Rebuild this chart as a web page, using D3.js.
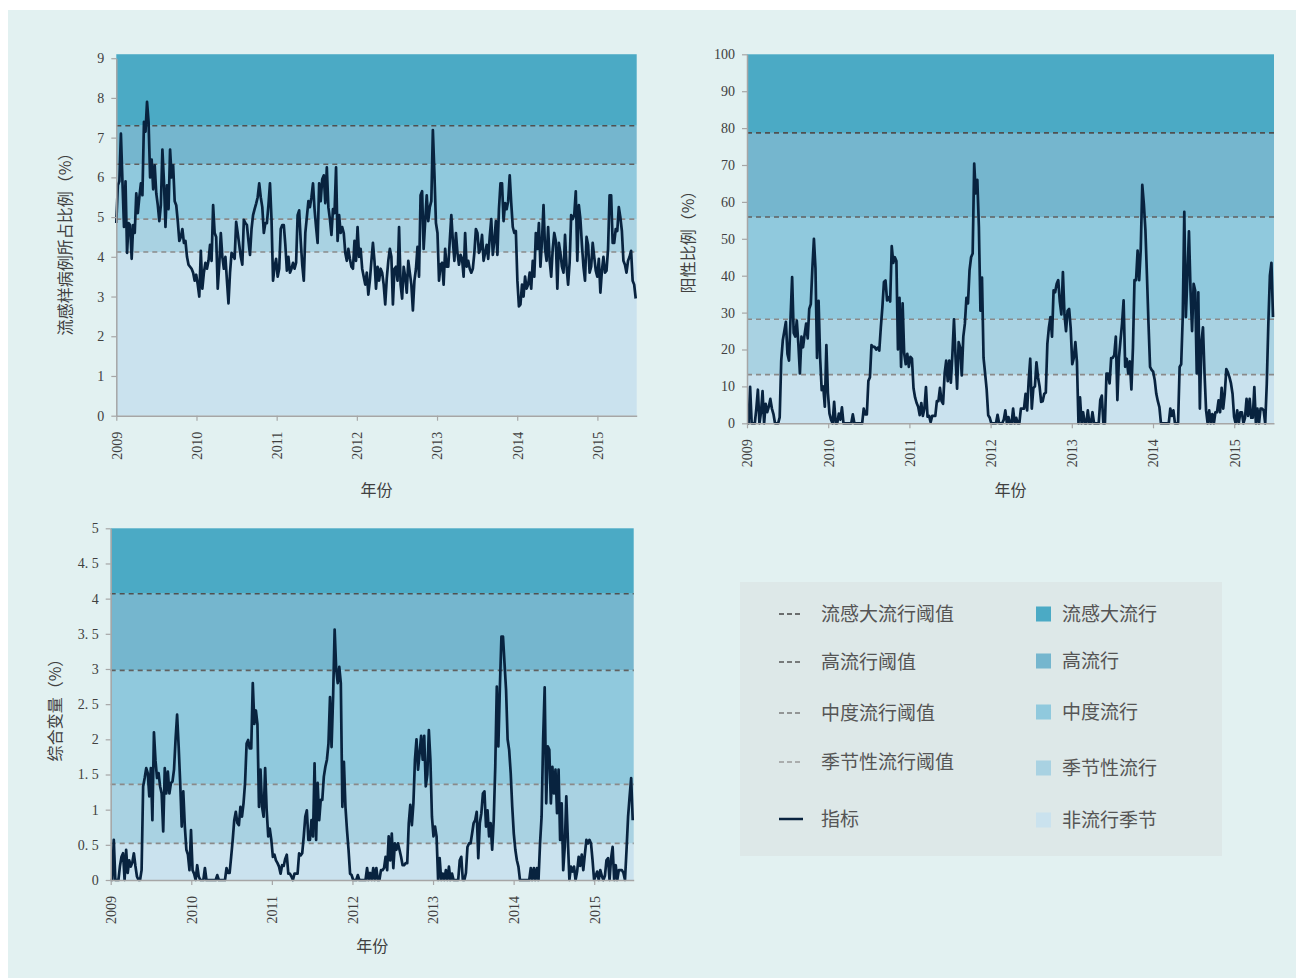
<!DOCTYPE html>
<html>
<head>
<meta charset="utf-8">
<script src="https://cdn.jsdelivr.net/npm/d3@7"></script>
<style>
  body { margin: 0; background: #ffffff; }
  svg { display: block; font-family: "Liberation Serif", "Noto Sans CJK SC", serif; }
</style>
</head>
<body>
<div id="chart"></div>
<script>
// ---- data (weekly, starting first week of 2009) ----
const years = [2009, 2010, 2011, 2012, 2013, 2014, 2015];

const bandNames = ["非流行季节", "季节性流行", "中度流行", "高流行", "流感大流行"];
const bandColors = ["#cae2ee", "#a9d2e2", "#90c9dd", "#75b6ce", "#4baac5"];
const thresholdNames = ["季节性流行阈值", "中度流行阈值", "高流行阈值", "流感大流行阈值"];
const thresholdColors = ["#8a8a8a", "#8a8a8a", "#606060", "#505050"];
const legendDashColors = ["#999999", "#7a7a7a", "#555555", "#444444"];

// ILI percentage
const iliValues = [
  4.85,5.8,5.9,7.1,5.9,4.75,5.9,4.1,4.85,4.8,3.95,4.8,4.6,5.6,5.1,5.5,5.85,5.55,7.4,7.15,
  7.9,7.4,6.0,6.45,5.7,6.3,5.6,5.3,4.9,5.3,6.7,5.9,4.75,5.8,5.2,6.7,6.0,6.3,5.4,5.3,
  4.9,4.4,4.5,4.7,4.35,4.4,4.0,3.8,3.75,3.7,3.6,
  3.4,3.55,3.3,3.0,4.15,3.2,3.6,3.85,3.7,3.9,4.3,3.9,5.3,4.6,4.5,3.2,3.8,4.6,4.0,3.7,
  4.0,3.4,2.83,3.6,4.1,4.05,3.95,4.88,4.6,4.3,4.0,3.8,4.93,4.85,4.8,4.4,4.05,4.7,5.05,5.2,
  5.34,5.5,5.85,5.5,5.25,4.6,4.85,4.85,5.3,5.85,
  4.95,3.4,3.75,3.95,3.5,3.7,4.7,4.8,4.8,4.3,3.65,4.0,3.6,3.7,3.85,3.7,
  3.85,5.05,5.17,4.4,3.8,3.4,4.6,5.0,5.4,5.25,5.5,5.85,5.2,4.75,4.35,5.85,5.4,5.95,6.05,5.35,
  6.25,5.25,4.95,4.55,5.2,5.1,6.25,4.4,5.05,4.6,4.75,4.6,4.1,3.9,4.2,3.95,3.75,3.7,4.4,3.9,
  4.75,4.0,4.2,3.7,
  3.5,3.3,3.6,3.05,3.4,3.9,4.35,3.9,3.2,3.75,3.4,3.7,3.6,3.3,2.8,3.45,3.9,4.2,4.0,2.8,
  3.7,3.75,3.4,4.75,3.3,2.95,3.75,3.5,3.1,3.9,3.6,3.3,2.65,3.4,3.7,4.25,3.5,5.55,5.65,4.2,
  4.9,5.55,4.9,5.25,5.4,7.19,6.1,4.85,4.6,3.4,3.8,
  3.85,3.3,4.2,3.75,3.75,4.4,5.05,4.4,3.9,4.6,4.1,3.8,4.05,3.95,3.5,4.6,3.75,3.9,3.7,3.6,
  3.7,4.1,4.7,4.6,4.1,4.2,4.55,3.9,4.1,4.3,3.95,4.5,4.95,4.05,4.4,4.9,4.05,5.2,5.85,5.85,
  4.9,5.35,5.2,5.4,6.05,5.35,4.75,4.6,4.65,3.4,
  2.75,2.8,3.3,3.0,3.5,3.2,3.3,3.6,3.2,3.9,3.5,4.6,4.2,4.85,3.75,4.4,5.3,4.2,3.9,4.75,
  3.9,3.5,4.2,4.6,4.4,3.2,4.35,4.1,3.75,3.6,4.55,3.75,3.3,3.85,5.05,4.95,5.05,5.65,3.9,5.3,
  4.95,4.3,3.75,3.4,4.5,4.3,3.6,3.75,4.35,4.0,3.65,3.5,3.95,3.1,3.65,4.0,3.6,3.65,4.2,5.55,
  5.55,4.35,4.35,4.7,4.65,5.25,5.0,4.65,3.9,3.8,3.6,3.9,4.0,4.15,3.4,3.3,2.95
];
const iliThresholds = [4.12, 4.95, 6.33, 7.3];
const iliTicks = [0, 1, 2, 3, 4, 5, 6, 7, 8, 9];
const iliTickLabels = ["0", "1", "2", "3", "4", "5", "6", "7", "8", "9"];

// positivity percentage
const posValues = [
  0,0,9.9,0,0,0,4,9.1,0,3,8.7,0,5.3,3,4.5,6.6,4,2.5,0,0,
  0,1.6,17,22.5,25,27.5,18.8,17,28.8,39.6,24.5,23.5,27.8,21.5,13.5,23.5,20.6,24,27,23,
  31,32.3,42,50,42,17.7,33.2,17.7,9,10,4.5,21.2,8.2,2.6,1,0,5.8,0,0,2.6,
  1,4.3,0,0,0,0,0,0,2.4,0,0,0,0,0,0,4,2.4,2.4,11.5,12.5,
  21.2,20.7,20.7,20,20.5,19.7,26,31.5,38.3,38.7,33.3,34.2,33,48,43.5,45,44,20,34,15.3,
  32.5,19,16,18.8,15.3,18,17.5,9.5,7,5.5,4.5,2.2,5.5,2,4,9.8,1.8,2,0.3,2,
  2,2,6,6,9.6,6,5.3,13.5,17,11.4,17,11,18.8,28.2,18,9.4,22,20.5,13,23.5,
  27,34,32.5,41.5,45,46,70.4,62.3,66,53.3,30.5,39.5,17.7,13.5,9.2,2.2,1.5,0,0,0,
  0,2.3,0,0,0,1,3.5,0,1.7,0,0,4,0,1.5,0,0,4,4,4,8,
  3.5,11.6,17.5,4,9.5,10,16.5,12.5,10,5.8,6,8,8.3,21.5,26,28.8,23.5,36,35.5,37.8,
  38.8,33,29.5,41,29.5,25,30.5,31,25.8,16,17.7,22,16.8,0,7,0,3,0,0,3.5,
  0,0,3,0,0,0,0,6.3,7.5,0,0,13.5,13.5,10.8,17.7,17.7,18.5,23.5,6.3,17.7,
  22.5,27,33.3,15.3,17.5,13.5,16.8,9.2,20.5,38.8,38.8,46.8,38.8,47,64.6,59.5,52.5,40,27,15.3,
  14.5,14,11.7,8,6,4.4,0,0,0,0,0,0,4,2,3.5,0,0,0,15.3,16,
  28.8,57.3,28.8,40,52,36,25,37.8,36,13.5,35.5,4,22,26,13.5,3.5,0,3.5,0,2.5,
  0,3,3,6.2,3,9.6,4,8,14.7,13.8,12.5,10.8,8,1.7,0,3.5,0,3,3,0,
  1.5,6.6,2,6.6,1.5,1.5,9.8,0,4,0,4,4,3.5,0,10.8,27,40,43.5,28.8
];
const posThresholds = [13.2, 28.2, 55.9, 78.7];
const posTicks = [0, 10, 20, 30, 40, 50, 60, 70, 80, 90, 100];
const posTickLabels = ["0", "10", "20", "30", "40", "50", "60", "70", "80", "90", "100"];

// composite
const compValues = [
  0,0,0.57,0,0,0,0.2,0.33,0.38,0,0.43,0.1,0.28,0.19,0.25,0.38,0.2,0.05,0,0,
  0.14,1.33,1.45,1.59,1.52,1.19,1.59,0.85,2.1,1.7,1.45,1.52,1.33,1.23,0.69,1.59,1.23,1.54,1.23,1.38,
  1.4,1.57,2.0,2.35,1.9,1.38,0.76,1.26,0.76,0.43,0.36,0.14,0.71,0.14,0.09,0,0.21,0.05,0,0,
  0,0.17,0,0,0,0,0,0,0,0.07,0,0,0,0,0,0.17,0.1,0.1,0.33,0.57,
  0.85,0.97,0.81,0.78,1.04,0.9,1.09,1.38,1.94,1.99,1.87,1.87,2.8,2.22,2.41,2.22,1.04,1.57,1.04,0.9,
  1.59,0.99,0.62,0.73,0.57,0.33,0.36,0.28,0.24,0.19,0.09,0.21,0.2,0.3,0.36,0.09,0.09,0.05,0,0.09,
  0.09,0.09,0.38,0.35,0.38,0.62,0.9,0.99,0.57,0.57,0.85,0.62,1.66,0.57,1.38,0.85,1.14,1.14,1.47,1.61,
  1.71,1.94,2.6,1.89,2.6,3.56,3.0,2.8,3.03,2.8,1.04,1.68,1.04,0.71,0.43,0.09,0.07,0,0,0,
  0.07,0,0,0,0,0,0.17,0,0.1,0,0.17,0,0.17,0,0,0.14,0.14,0.17,0.33,0.14,
  0.62,0.28,0.66,0.17,0.52,0.43,0.52,0.43,0.33,0.21,0.21,0.24,0.24,0.81,1.07,0.78,1.09,1.71,2.0,1.57,
  1.8,2.05,1.71,2.05,1.33,1.5,2.13,1.71,0.9,0.62,0.76,0.62,0,0.31,0,0.09,0,0.14,0,0.19,
  0,0.09,0,0,0,0,0.28,0.33,0,0,0.1,0.47,0.52,0.52,0.66,0.81,0.85,0.97,0.31,0.81,
  0.95,1.23,1.26,0.76,0.99,0.62,0.81,0.43,0.85,1.61,2.75,1.9,2.75,3.46,3.46,3.08,2.7,2.0,1.85,1.52,
  1.04,0.66,0.43,0.28,0.19,0,0,0,0,0,0,0,0.17,0,0.17,0,0.17,0,0.52,0.9,
  2.0,2.74,1.09,1.9,1.85,1.09,1.61,1.23,1.57,0.95,1.57,0.57,1.09,0.14,0.47,1.19,0.57,0,0.19,0.12,
  0.19,0,0.12,0.33,0.2,0.36,0.14,0.36,0.57,0.52,0.57,0.52,0.28,0,0.06,0.12,0,0.14,0.06,0,
  0.06,0.28,0.31,0,0.31,0.47,0,0.21,0,0.14,0.14,0.14,0.1,0,0.43,0.9,1.19,1.45,0.85
];
const compThresholds = [0.52, 1.36, 2.98, 4.07];
const compTicks = [0, 0.5, 1, 1.5, 2, 2.5, 3, 3.5, 4, 4.5, 5];
const compTickLabels = ["0", "0. 5", "1", "1. 5", "2", "2. 5", "3", "3. 5", "4", "4. 5", "5"];

const legendLineLabel = "指标";
const xTitle = "年份";

// ---- layout ----
const W = 1296, H = 978;
const lineColor = "#08233f";
const textColor = "#404040";
const axisColor = "#a6a6a6";

const panels = [
  {values: iliValues, thresholds: iliThresholds, ticks: iliTicks, labels: iliTickLabels,
   max: 9, bandTop: 9.1, left: 116.3, right: 636.7, top: 58.2, bottom: 415.7,
   title: "流感样病例所占比例（%）", titleX: 65, titleY: 240, xTitleY: 496},
  {values: posValues, thresholds: posThresholds, ticks: posTicks, labels: posTickLabels,
   max: 100, bandTop: 100, left: 747, right: 1274, top: 54.3, bottom: 423.3,
   title: "阳性比例（%）", titleX: 688, titleY: 238, xTitleY: 496},
  {values: compValues, thresholds: compThresholds, ticks: compTicks, labels: compTickLabels,
   max: 5, bandTop: 5, left: 110.7, right: 633.7, top: 528.3, bottom: 880,
   title: "综合变量（%）", titleX: 55, titleY: 706, xTitleY: 952}
];

const svg = d3.select("#chart").append("svg")
  .attr("width", W)
  .attr("height", H);

svg.append("rect")
  .attr("x", 8).attr("y", 10)
  .attr("width", W - 8).attr("height", H - 10)
  .attr("fill", "#e2f1f1");

const weekToYear = i => 2009 + i * 7 / 365.25;

panels.forEach(function (p) {
  const x = d3.scaleLinear().domain([2009, 2015.49]).range([p.left, p.right]);
  const y = d3.scaleLinear().domain([0, p.max]).range([p.bottom, p.top]);
  const g = svg.append("g");

  const edges = [0].concat(p.thresholds, [p.bandTop]);
  g.selectAll("rect.band")
    .data(bandColors)
    .join("rect")
    .attr("class", "band")
    .attr("x", p.left)
    .attr("width", p.right - p.left)
    .attr("y", (d, k) => y(edges[k + 1]))
    .attr("height", (d, k) => y(edges[k]) - y(edges[k + 1]))
    .attr("fill", d => d);

  g.selectAll("line.threshold")
    .data(p.thresholds)
    .join("line")
    .attr("class", "threshold")
    .attr("x1", p.left).attr("x2", p.right)
    .attr("y1", d => y(d)).attr("y2", d => y(d))
    .attr("stroke", (d, k) => thresholdColors[k])
    .attr("stroke-width", 1.6)
    .attr("stroke-dasharray", "5,4");

  const line = d3.line()
    .x((d, i) => x(weekToYear(i)))
    .y(d => y(d));

  g.append("path")
    .attr("d", line(p.values))
    .attr("fill", "none")
    .attr("stroke", lineColor)
    .attr("stroke-width", 2.7)
    .attr("stroke-linejoin", "round");

  const yAxis = g.append("g")
    .attr("transform", "translate(" + p.left + ",0)")
    .call(d3.axisLeft(y).tickValues(p.ticks).tickSize(5).tickSizeOuter(0).tickPadding(7)
      .tickFormat((d, k) => p.labels[k]));

  const xAxis = g.append("g")
    .attr("transform", "translate(0," + p.bottom + ")")
    .call(d3.axisBottom(x).tickValues(years).tickSize(5).tickSizeOuter(0).tickFormat(d3.format("d")));

  xAxis.selectAll("text")
    .attr("transform", "rotate(-90)")
    .attr("x", -16).attr("y", 0).attr("dy", "0.35em")
    .style("text-anchor", "end");

  [yAxis, xAxis].forEach(function (a) {
    a.select(".domain").attr("stroke", axisColor).attr("stroke-width", 1.5);
    a.selectAll(".tick line").attr("stroke", axisColor).attr("stroke-width", 1.2);
    a.selectAll("text").attr("fill", textColor).style("font-size", "14px")
      .style("font-family", "'Liberation Serif', serif");
  });

  g.append("text")
    .attr("transform", "translate(" + p.titleX + "," + p.titleY + ") rotate(-90)")
    .attr("text-anchor", "middle")
    .attr("dy", "0.35em")
    .attr("fill", textColor)
    .style("font-size", "16px")
    .style("font-family", "'Noto Sans CJK SC', sans-serif")
    .text(p.title);

  g.append("text")
    .attr("x", (p.left + p.right) / 2)
    .attr("y", p.xTitleY)
    .attr("text-anchor", "middle")
    .attr("fill", textColor)
    .style("font-size", "16px")
    .style("font-family", "'Noto Sans CJK SC', sans-serif")
    .text(xTitle);
});

// ---- legend ----
const legend = svg.append("g");
legend.append("rect")
  .attr("x", 740).attr("y", 582)
  .attr("width", 482).attr("height", 274)
  .attr("fill", "#dde8e8");

const leftRows = [614, 662, 713, 762];
const leftItems = thresholdNames.slice().reverse();
const leftColors = legendDashColors.slice().reverse();

leftItems.forEach(function (name, k) {
  legend.append("line")
    .attr("x1", 779).attr("x2", 800)
    .attr("y1", leftRows[k]).attr("y2", leftRows[k])
    .attr("stroke", leftColors[k])
    .attr("stroke-width", 1.5)
    .attr("stroke-dasharray", "5,3");
  legend.append("text")
    .attr("x", 821).attr("y", leftRows[k])
    .attr("dy", "0.35em")
    .attr("fill", "#555555")
    .style("font-size", "19px")
    .style("font-family", "'Noto Sans CJK SC', sans-serif")
    .text(name);
});

legend.append("line")
  .attr("x1", 779).attr("x2", 803)
  .attr("y1", 819).attr("y2", 819)
  .attr("stroke", lineColor)
  .attr("stroke-width", 2.5);
legend.append("text")
  .attr("x", 821).attr("y", 819)
  .attr("dy", "0.35em")
  .attr("fill", "#555555")
  .style("font-size", "19px")
  .style("font-family", "'Noto Sans CJK SC', sans-serif")
  .text(legendLineLabel);

const rightRows = [614, 661, 712, 768, 820];
const rightNames = bandNames.slice().reverse();
const rightColors = bandColors.slice().reverse();
rightNames.forEach(function (name, k) {
  legend.append("rect")
    .attr("x", 1036).attr("y", rightRows[k] - 7.5)
    .attr("width", 15).attr("height", 15)
    .attr("fill", rightColors[k]);
  legend.append("text")
    .attr("x", 1062).attr("y", rightRows[k])
    .attr("dy", "0.35em")
    .attr("fill", "#555555")
    .style("font-size", "19px")
    .style("font-family", "'Noto Sans CJK SC', sans-serif")
    .text(name);
});
</script>
</body>
</html>
